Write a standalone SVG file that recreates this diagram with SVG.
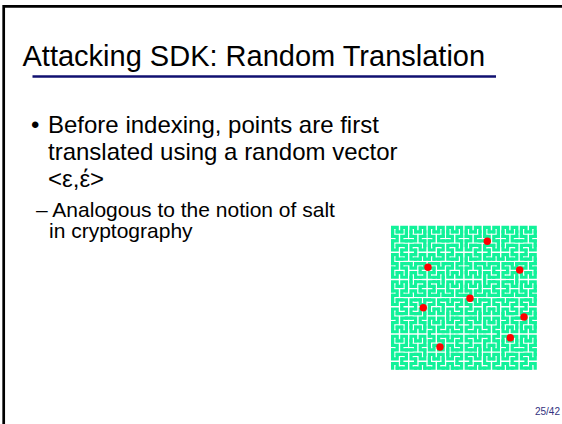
<svg xmlns="http://www.w3.org/2000/svg" xmlns:xlink="http://www.w3.org/1999/xlink" width="562" height="424" viewBox="0 0 562 424">
  <style>
    .frame { stroke: #000; stroke-width: 2.7; fill: none; }
    .title { font-family: "Liberation Sans", Arial, sans-serif; font-size: 29px; fill: #000; }
    .body { font-family: "Liberation Sans", Arial, sans-serif; font-size: 24px; fill: #000; }
    .sub { font-family: "Liberation Sans", Arial, sans-serif; font-size: 21px; fill: #000; }
    .pageno { font-family: "Liberation Sans", Arial, sans-serif; font-size: 10px; fill: #333380; }
    .curve { fill: none; stroke: #12F29A; stroke-width: 0.7; stroke-linecap: square; stroke-linejoin: miter; }
    .pt { fill: #FF0000; }
  </style>
  <defs>
    <!-- Hilbert curve built recursively in cell units; each level starts bottom-left and ends bottom-right -->
    <path id="h1" d="M0 1V0H1V1"/>
    <g id="h2">
      <use xlink:href="#h1" transform="matrix(0,-1,-1,0,1,3)"/>
      <use xlink:href="#h1"/>
      <use xlink:href="#h1" transform="translate(2,0)"/>
      <use xlink:href="#h1" transform="matrix(0,1,1,0,2,2)"/>
      <path d="M0 2V1M1 1H2M3 1V2"/>
    </g>
    <g id="h3">
      <use xlink:href="#h2" transform="matrix(0,-1,-1,0,3,7)"/>
      <use xlink:href="#h2"/>
      <use xlink:href="#h2" transform="translate(4,0)"/>
      <use xlink:href="#h2" transform="matrix(0,1,1,0,4,4)"/>
      <path d="M0 4V3M3 3H4M7 3V4"/>
    </g>
    <g id="h4">
      <use xlink:href="#h3" transform="matrix(0,-1,-1,0,7,15)"/>
      <use xlink:href="#h3"/>
      <use xlink:href="#h3" transform="translate(8,0)"/>
      <use xlink:href="#h3" transform="matrix(0,1,1,0,8,8)"/>
      <path d="M0 8V7M7 7H8M15 7V8"/>
    </g>
    <g id="h5">
      <use xlink:href="#h4" transform="matrix(0,-1,-1,0,15,31)"/>
      <use xlink:href="#h4"/>
      <use xlink:href="#h4" transform="translate(16,0)"/>
      <use xlink:href="#h4" transform="matrix(0,1,1,0,16,16)"/>
      <path d="M0 16V15M15 15H16M31 16V15"/>
    </g>
  </defs>

  <rect width="562" height="424" fill="#fff"/>

  <!-- slide frame -->
  <path class="frame" d="M3.7 424V6.3H562"/>

  <!-- title and rule -->
  <text class="title" x="22.5" y="66">Attacking SDK: Random Translation</text>
  <line x1="32.5" y1="76.5" x2="496" y2="76.5" stroke="#101070" stroke-width="2.4"/>

  <!-- bullet text -->
  <text class="body" x="31" y="133">•</text>
  <text class="body" x="48" y="133">Before indexing, points are first</text>
  <text class="body" x="48" y="160">translated using a random vector</text>
  <text class="body" x="48" y="187">&lt;ε,έ&gt;</text>
  <text class="sub" x="36" y="217">– Analogous to the notion of salt</text>
  <text class="sub" x="49" y="238">in cryptography</text>

  <!-- space-filling curve with sample points -->
  <g id="hilbert" class="curve" transform="translate(392.6,227.3) scale(4.6,4.54)">
    <use xlink:href="#h5"/>
  </g>
  <g id="points">
    <circle class="pt" cx="487.3" cy="241.3" r="3.7"/>
    <circle class="pt" cx="428" cy="267.3" r="3.7"/>
    <circle class="pt" cx="519.7" cy="270" r="3.7"/>
    <circle class="pt" cx="470" cy="298.3" r="3.7"/>
    <circle class="pt" cx="423.3" cy="307.7" r="3.7"/>
    <circle class="pt" cx="524" cy="317" r="3.7"/>
    <circle class="pt" cx="510.3" cy="337.7" r="3.7"/>
    <circle class="pt" cx="440" cy="347" r="3.7"/>
  </g>

  <!-- page number -->
  <text class="pageno" x="560" y="415" text-anchor="end">25/42</text>
</svg>
